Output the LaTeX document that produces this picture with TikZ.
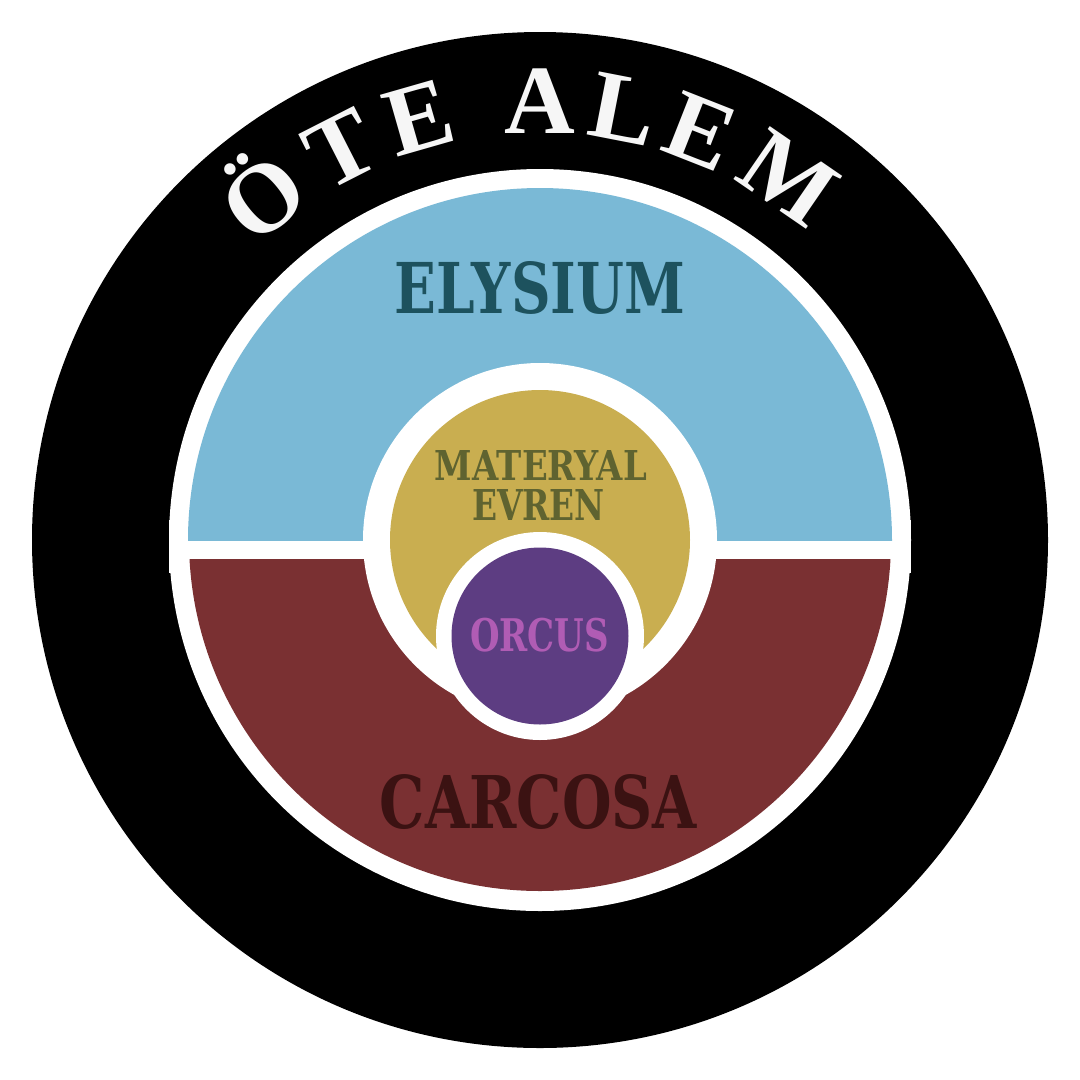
\documentclass[tikz,border=0pt]{standalone}
\usepackage{fontspec}
\usepackage{graphicx}
\setmainfont{Liberation Serif}[BoldFont={Liberation Serif Bold}]
\newfontfamily\lblfont{DejaVu Serif}[BoldFont={DejaVu Serif Bold}]
\definecolor{elyblue}{HTML}{7AB9D6}
\definecolor{carred}{HTML}{7A3032}
\definecolor{matgold}{HTML}{C9AE50}
\definecolor{orcpurple}{HTML}{5D3D82}
\definecolor{elytext}{HTML}{1D525E}
\definecolor{mattext}{HTML}{5F6330}
\definecolor{orctext}{HTML}{B05CB4}
\definecolor{cartext}{HTML}{3B1212}
\definecolor{arcwhite}{HTML}{F6F6F6}
\tikzset{
  disc/.style={circle, inner sep=0pt, outer sep=0pt, draw=none},
  regionlbl/.style={inner sep=0pt, outer sep=0pt, font=\lblfont\bfseries},
  arcletter/.style={inner sep=0pt, outer sep=0pt, text=arcwhite, anchor=base,
    font=\fontsize{98}{98}\selectfont\bfseries}
}
\begin{document}
\begin{tikzpicture}[x=1pt,y=-1pt]
\useasboundingbox (0,0) rectangle (1080,1080);
\fill[white] (0,0) rectangle (1080,1080);
\node[disc, fill=black, minimum size=1016pt] (outer) at (540,540) {};
\node[disc, fill=white, minimum size=742pt] (ring) at (540,540) {};
\fill[white] (169,520) rectangle (911,573);
\begin{scope}
  \clip (0,0) rectangle (1080,540);
  \fill[elyblue] (540,540) circle[radius=352pt];
\end{scope}
\begin{scope}
  \clip (0,559) rectangle (1080,1080);
  \fill[carred] (540,540) circle[radius=351pt];
\end{scope}
\node[disc, fill=white, minimum size=354pt] (matring) at (540,540) {};
\node[disc, fill=matgold, minimum size=300pt] (mat) at (540,540) {};
\node[disc, fill=white, minimum size=208pt] (orcring) at (540,636) {};
\node[disc, fill=orcpurple, minimum size=177pt] (orc) at (540,636) {};

\node[regionlbl, text=elytext] (ely) at (540,288) {\resizebox*{290pt}{53pt}{ELYSIUM}};
\node[regionlbl, text=mattext] (mat1) at (541,465) {\resizebox*{212pt}{30pt}{MATERYAL}};
\node[regionlbl, text=mattext] (mat2) at (538.5,504.5) {\resizebox*{133pt}{31pt}{EVREN}};
\node[regionlbl, text=orctext] (orcl) at (539.5,635) {\resizebox*{139pt}{34pt}{ORCUS}};
\node[regionlbl, text=cartext] (car) at (538.5,802.5) {\resizebox*{317pt}{55pt}{CARCOSA}};

\foreach \ch/\ang [count=\i] in {Ö/-39, T/-27, E/-16, A/0, L/11, E/21.5, M/34.5}{
  \node[arcletter, rotate=-\ang] (arc\i) at ({540+407*sin(\ang)},{540-407*cos(\ang)}) {\ch};
}
\end{tikzpicture}
\end{document}
